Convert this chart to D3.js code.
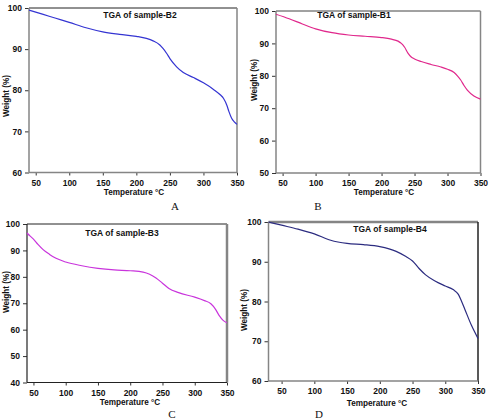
<!DOCTYPE html>
<html>
<head>
<meta charset="utf-8">
<script src="https://cdn.jsdelivr.net/npm/d3@7"></script>
<style>
body { margin: 0; background: #fff; }
text { font-family: "Liberation Sans", Arial, sans-serif; font-weight: bold; fill: #111; }
.letter { font-family: "Liberation Serif", "Times New Roman", serif; font-weight: normal; }
</style>
</head>
<body>
<svg id="chart" width="490" height="419"></svg>
<script>
// sample B2 (panel A)
var tempA = [40, 60, 80, 100, 125, 150, 175, 200, 215, 225, 235, 240, 245, 250, 260, 270, 285, 300, 315, 325, 330, 335, 338, 342, 346, 350];
var weightA = [99.5, 98.5, 97.5, 96.5, 95.2, 94.2, 93.6, 93.1, 92.6, 92.0, 91.0, 90.1, 89.0, 87.7, 85.7, 84.3, 83.1, 81.8, 80.2, 78.9, 78.0, 76.3, 74.8, 73.2, 72.3, 71.7];
// sample B1 (panel B)
var tempB = [40, 60, 80, 100, 125, 150, 175, 200, 215, 225, 230, 235, 240, 245, 250, 260, 275, 290, 300, 310, 315, 320, 325, 330, 340, 350];
var weightB = [99.0, 97.6, 96.0, 94.5, 93.3, 92.6, 92.2, 91.8, 91.3, 90.7, 90.0, 88.8, 87.0, 85.8, 85.2, 84.4, 83.5, 82.7, 82.0, 81.0, 80.0, 78.7, 77.0, 75.6, 73.8, 72.8];
// sample B3 (panel C)
var tempC = [40, 45, 50, 57, 65, 75, 85, 100, 125, 150, 175, 200, 220, 230, 240, 250, 260, 275, 300, 315, 325, 332, 338, 344, 350];
var weightC = [96.6, 95.4, 94.3, 92.3, 90.3, 88.5, 87.0, 85.6, 84.2, 83.2, 82.6, 82.3, 81.8, 81.0, 79.6, 77.6, 75.6, 74.0, 72.3, 71.0, 69.8, 67.8, 65.3, 63.5, 62.6];
// sample B4 (panel D)
var tempD = [30, 40, 50, 75, 100, 125, 150, 175, 200, 225, 240, 250, 260, 270, 285, 300, 312, 320, 325, 330, 340, 350];
var weightD = [100, 99.6, 99.2, 98.2, 97.0, 95.4, 94.6, 94.3, 93.8, 92.6, 91.3, 90.2, 88.3, 86.7, 85.1, 83.9, 83.0, 81.8, 80.0, 78.0, 74.0, 70.7];

var xTicks = [50, 100, 150, 200, 250, 300, 350];
var titles = ['TGA of sample-B2', 'TGA of sample-B1', 'TGA of sample-B3', 'TGA of sample-B4'];
var letters = ['A', 'B', 'C', 'D'];
var X_LABEL = 'Temperature \u00B0C';
var Y_LABEL = 'Weight (%)';

var GRAY = '#858585';

var panels = [
  { temp: tempA, weight: weightA, xDom: [40, 350], yDom: [60, 100], color: '#3434d2',
    box: { l: 29, t: 8, r: 237, b: 172.5 },
    sides: { top: ['#222', 1], right: [GRAY, 1.5], bottom: [GRAY, 1.5], left: [GRAY, 1.5] },
    title: [140, 18], xlab: [134, 195], ylab: [6, 96], letter: [175, 210] },
  { temp: tempB, weight: weightB, xDom: [40, 350], yDom: [50, 100], color: '#e0288c',
    box: { l: 276, t: 11, r: 480.5, b: 173 },
    sides: { top: ['#444', 1], right: [GRAY, 1.5], bottom: [GRAY, 1.5], left: [GRAY, 1.5] },
    title: [354, 18], xlab: [384, 195], ylab: [254, 80], letter: [318, 210] },
  { temp: tempC, weight: weightC, xDom: [40, 350], yDom: [40, 100], color: '#c934dc',
    box: { l: 27, t: 224, r: 227, b: 382.5 },
    sides: { top: ['#222', 1], right: [GRAY, 2.5], bottom: ['#222', 1.2], left: ['#222', 1.2] },
    title: [122, 236], xlab: [130, 405], ylab: [6, 292], letter: [172, 418] },
  { temp: tempD, weight: weightD, xDom: [30, 350], yDom: [60, 100], color: '#2c2c80',
    box: { l: 268.5, t: 222, r: 478, b: 381 },
    sides: { top: [GRAY, 2.5], right: ['#222', 1.5], bottom: [GRAY, 1.5], left: [GRAY, 1.5] },
    title: [390, 232], xlab: [377, 406], ylab: [244, 310], letter: [319, 418] }
];

var svg = d3.select('#chart');

panels.forEach(function (p, i) {
  var b = p.box;
  var x = d3.scaleLinear().domain(p.xDom).range([b.l, b.r]);
  var y = d3.scaleLinear().domain(p.yDom).range([b.b, b.t]);
  var g = svg.append('g');

  var yTicks = d3.range(p.yDom[0], p.yDom[1] + 1, 10);

  // axes, domain line replaced by the frame below
  var yAxis = g.append('g')
    .attr('transform', 'translate(' + b.l + ',0)')
    .call(d3.axisLeft(y).tickValues(yTicks).tickSize(4).tickPadding(3));
  var xAxis = g.append('g')
    .attr('transform', 'translate(0,' + b.b + ')')
    .call(d3.axisBottom(x).tickValues(xTicks).tickSize(3).tickPadding(4));
  [yAxis, xAxis].forEach(function (a) {
    a.select('.domain').remove();
    a.selectAll('line').attr('stroke', '#333').attr('stroke-width', 1);
    a.selectAll('text').style('font-size', '8.5px').attr('fill', '#111');
  });

  // frame
  var s = p.sides;
  var frame = [
    [b.l, b.t, b.r, b.t, s.top],
    [b.r, b.t, b.r, b.b, s.right],
    [b.l, b.b, b.r, b.b, s.bottom],
    [b.l, b.t, b.l, b.b, s.left]
  ];
  g.selectAll('line.frame').data(frame).enter().append('line')
    .attr('class', 'frame')
    .attr('x1', function (d) { return d[0]; })
    .attr('y1', function (d) { return d[1]; })
    .attr('x2', function (d) { return d[2]; })
    .attr('y2', function (d) { return d[3]; })
    .attr('stroke', function (d) { return d[4][0]; })
    .attr('stroke-width', function (d) { return d[4][1]; });

  // TGA curve
  var pts = p.temp.map(function (t, k) { return [t, p.weight[k]]; });
  var line = d3.line()
    .x(function (d) { return x(d[0]); })
    .y(function (d) { return y(d[1]); })
    .curve(d3.curveMonotoneX);
  g.append('path')
    .datum(pts)
    .attr('d', line)
    .attr('fill', 'none')
    .attr('stroke', p.color)
    .attr('stroke-width', 1.2);

  // texts
  g.append('text')
    .attr('x', p.title[0]).attr('y', p.title[1])
    .attr('text-anchor', 'middle')
    .style('font-size', '8.5px')
    .text(titles[i]);

  g.append('text')
    .attr('x', p.xlab[0]).attr('y', p.xlab[1])
    .attr('text-anchor', 'middle')
    .style('font-size', '8.2px')
    .text(X_LABEL);

  g.append('text')
    .attr('transform', 'translate(' + p.ylab[0] + ',' + p.ylab[1] + ')rotate(-90)')
    .attr('text-anchor', 'middle')
    .attr('dy', '0.35em')
    .style('font-size', '8.2px')
    .text(Y_LABEL);

  g.append('text')
    .attr('class', 'letter')
    .attr('x', p.letter[0]).attr('y', p.letter[1])
    .attr('text-anchor', 'middle')
    .style('font-size', '11px')
    .text(letters[i]);
});
</script>
</body>
</html>
